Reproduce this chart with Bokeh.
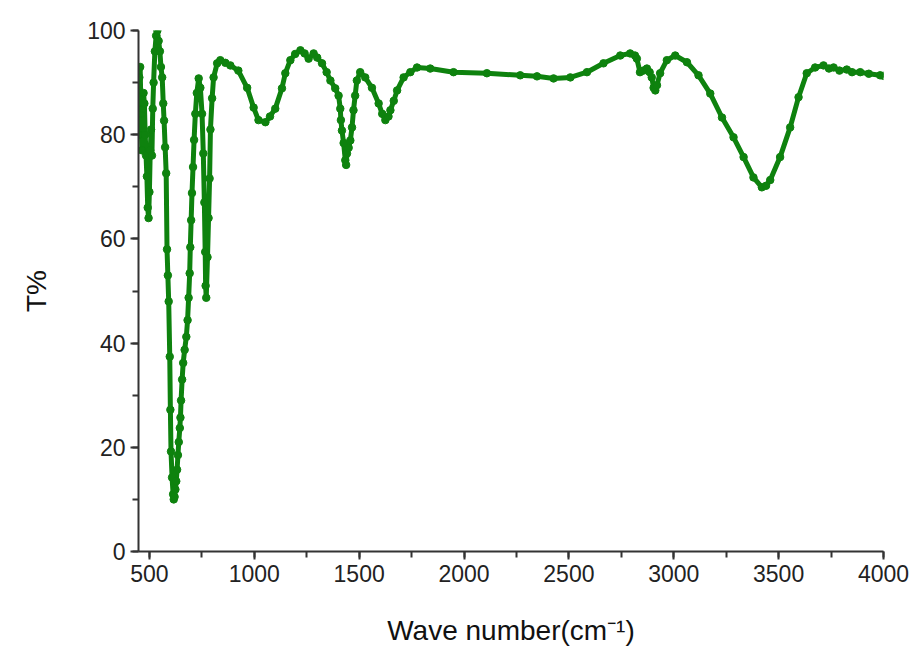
from bokeh.plotting import figure
from bokeh.models import Range1d, SingleIntervalTicker, ColumnDataSource
from bokeh.embed import file_html
from bokeh.resources import INLINE

wavenumber = [448, 452, 456, 460, 464, 468, 472, 476, 480, 484, 488, 492, 496, 500, 504, 508, 512, 516, 520, 526,
              532, 538, 544, 550, 555, 561, 566, 570, 575, 580, 584, 588, 592, 597, 600, 603, 608, 613, 616, 620,
              624, 628, 632, 636, 640, 645, 648, 651, 656, 661, 668, 676, 682, 687, 692, 695, 699, 703, 708, 713,
              719, 726, 735, 743, 751, 757, 762, 766, 768, 771, 777, 782, 787, 791, 799, 806, 823, 838, 862, 886,
              924, 966, 997, 1020, 1053, 1075, 1100, 1132, 1148, 1172, 1195, 1220, 1240, 1259, 1283, 1300, 1323, 1345, 1363, 1386,
              1402, 1410, 1413, 1418, 1426, 1434, 1438, 1442, 1450, 1458, 1466, 1473, 1481, 1489, 1505, 1529, 1561, 1593, 1610, 1625,
              1640, 1649, 1665, 1681, 1712, 1744, 1776, 1839, 1950, 2109, 2268, 2348, 2427, 2507, 2586, 2665, 2745, 2792, 2815, 2824,
              2839, 2855, 2872, 2885, 2895, 2904, 2912, 2920, 2935, 2967, 3007, 3063, 3118, 3174, 3230, 3285, 3333, 3380, 3420, 3440,
              3460, 3507, 3555, 3595, 3634, 3674, 3714, 3740, 3762, 3790, 3825, 3850, 3889, 3930, 3984, 4000]
transmittance = [80, 91, 93, 84, 77, 85, 88, 86, 80, 76, 72, 66, 64, 69, 77, 81, 76, 85, 90, 96,
                 99, 100, 98, 96, 93, 91, 86, 82.7, 77.6, 72.6, 58, 53, 48, 37.4, 27.2, 19.2, 14.2, 11, 10, 10.5,
                 11.9, 13.5, 15.7, 18.5, 21, 23.7, 25.7, 29, 33, 36.2, 38.7, 41.2, 44.4, 48.7, 53.4, 58.4, 63.6, 68.8, 73.8, 79,
                 84, 88, 90.8, 89, 84, 76.4, 67, 57.5, 51, 48.7, 56.5, 64, 71.6, 81, 87, 91, 93.7, 94.3, 93.8, 93.3,
                 92.3, 89, 85.2, 82.8, 82.4, 83.5, 85, 88.9, 91.8, 94.3, 95.5, 96.2, 95.6, 94.6, 95.6, 94.8, 93.7, 92, 90.4, 88.9,
                 87.5, 85, 82.8, 80.8, 78.4, 75.1, 74.2, 76.4, 77.5, 78.9, 81.4, 84.7, 87.5, 90.4, 92, 91, 89, 86, 84, 82.8,
                 83.5, 84.7, 86.5, 88.5, 91, 92, 92.9, 92.7, 92, 91.8, 91.4, 91.2, 90.8, 91, 92, 93.7, 95.2, 95.6, 95.2, 94.6,
                 92, 92.3, 92.7, 92, 91, 89, 88.5, 89.5, 91.8, 94.3, 95.2, 93.9, 91.4, 87.9, 83.3, 79.5, 75.7, 71.8, 69.9, 70.2,
                 71.3, 75.7, 81.4, 87.2, 91.8, 92.9, 93.3, 92.7, 92.9, 92.3, 92.5, 92, 92, 91.7, 91.4, 91.3]

x_ticks_interval = 500
y_ticks_interval = 20

src = ColumnDataSource(data=dict(x=wavenumber, y=transmittance))

p = figure(width=909, height=648, output_backend="svg", toolbar_location=None,
           x_range=Range1d(448, 4000), y_range=Range1d(0, 100),
           min_border_left=138, min_border_right=26, min_border_top=30, min_border_bottom=96)

green = "#0e820e"
p.line("x", "y", source=src, line_color=green, line_width=5)
p.scatter("x", "y", source=src, size=7.5, fill_color=green, line_color=green)

p.xgrid.visible = False
p.ygrid.visible = False
p.outline_line_color = None
p.background_fill_color = "white"
p.border_fill_color = "white"

p.xaxis.ticker = SingleIntervalTicker(interval=x_ticks_interval, num_minor_ticks=2)
p.yaxis.ticker = SingleIntervalTicker(interval=y_ticks_interval, num_minor_ticks=2)

for ax in (p.xaxis[0], p.yaxis[0]):
    ax.axis_line_color = "#333333"
    ax.axis_line_width = 2
    ax.major_tick_line_color = "#333333"
    ax.major_tick_line_width = 2
    ax.minor_tick_line_color = "#333333"
    ax.minor_tick_line_width = 2
    ax.major_tick_in = 0
    ax.major_tick_out = 8
    ax.minor_tick_in = 0
    ax.minor_tick_out = 6
    ax.major_label_text_font = "Liberation Sans"
    ax.major_label_text_font_size = "23px"
    ax.major_label_text_color = "#222222"
    ax.axis_label_text_font = "Liberation Sans"
    ax.axis_label_text_font_style = "normal"
    ax.axis_label_text_color = "#111111"

p.xaxis.axis_label = "Wave number(cm⁻¹)"
p.xaxis.axis_label_text_font_size = "28px"
p.xaxis.axis_label_standoff = 30
p.yaxis.axis_label = "T%"
p.yaxis.axis_label_text_font_size = "28px"
p.yaxis.axis_label_standoff = 32

open("out.html", "w").write(file_html(p, INLINE))
